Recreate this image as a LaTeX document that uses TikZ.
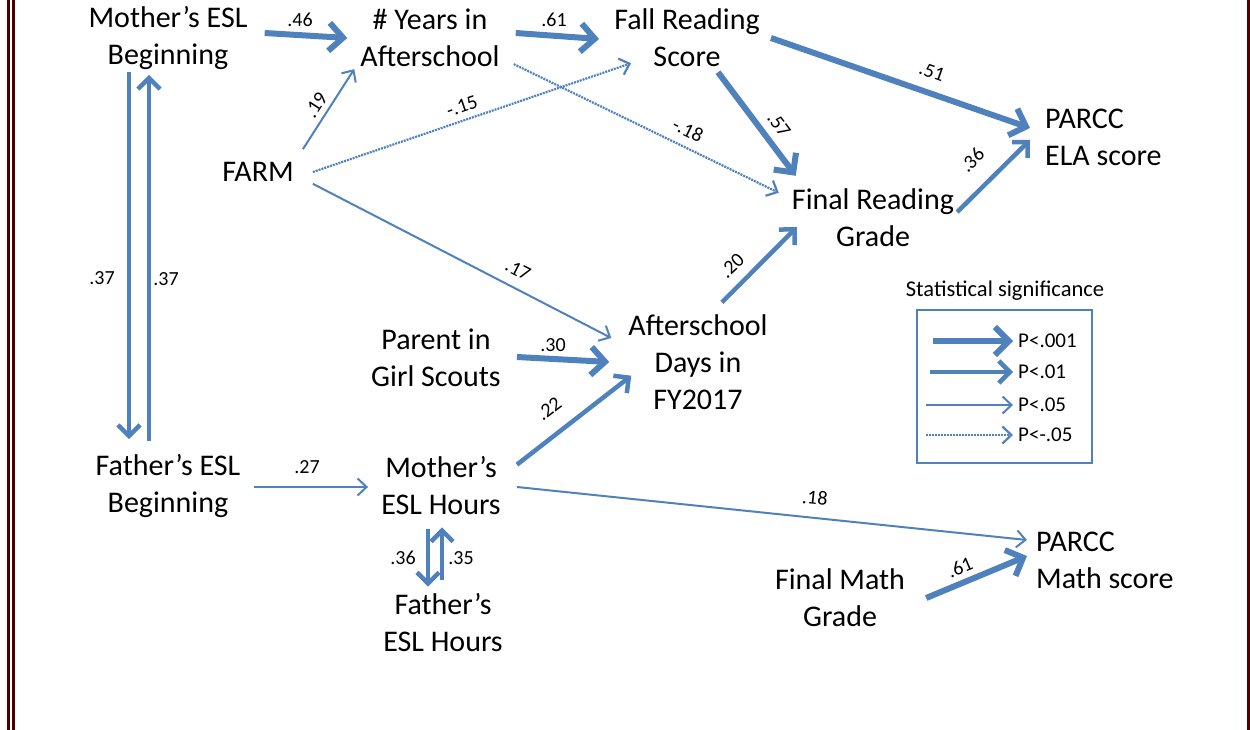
\documentclass[tikz,border=0pt]{standalone}
\usepackage{fontspec}
\setmainfont{Carlito}
\usepackage{xcolor}
\usetikzlibrary{arrows.meta, positioning, calc}
\definecolor{pathblue}{RGB}{79,129,189}
\definecolor{framered}{RGB}{80,0,0}

\tikzset{
  var/.style={font=\fontsize{30}{37}\selectfont, align=center, inner sep=0pt},
  varl/.style={var, align=left, anchor=west},
  lbl/.style={font=\fontsize{20}{24}\selectfont, inner sep=0pt},
  sig001/.style={pathblue, line width=6pt, -{Straight Barb[length=14pt,width=28pt]}},
  sig01/.style={pathblue, line width=4.5pt, -{Straight Barb[length=11pt,width=22pt]}},
  sig05/.style={pathblue, line width=2pt, -{Straight Barb[length=9pt,width=17pt]}},
  signs/.style={pathblue, line width=2.2pt, dash pattern=on 2pt off 1pt, -{Straight Barb[length=9pt,width=17pt]}},
}

\begin{document}
\begin{tikzpicture}[x=1pt, y=-1pt]
      \useasboundingbox (0,0) rectangle (1250,730);
      % frame
      \draw [framered, line width=3pt] (8.5,0) -- (8.5,730);
      \draw [framered, line width=3pt] (13.5,0) -- (13.5,730);
      \draw [framered, line width=3pt] (1248.5,0) -- (1248.5,730);

      % variables
      \node[var] (mbeg) at (168,38) {Mother’s ESL\\Beginning};
      \node[var] (years) at (430,38) {\# Years in\\Afterschool};
      \node[var] (fall) at (687,38) {Fall Reading\\Score};
      \node[varl] (ela) at (1045,137) {PARCC\\ELA score};
      \node[var] (farm) at (258,172) {FARM};
      \node[var] (fread) at (873,218) {Final Reading\\Grade};
      \node[var] (days) at (698,362) {Afterschool\\Days in\\FY2017};
      \node[var] (scouts) at (436,358) {Parent in\\Girl Scouts};
      \node[var] (fbeg) at (168,486) {Father’s ESL\\Beginning};
      \node[var] (mhours) at (441,486) {Mother’s\\ESL Hours};
      \node[var] (fhours) at (443,623) {Father’s\\ESL Hours};
      \node[var] (fmath) at (840,598) {Final Math\\Grade};
      \node[varl] (math) at (1036,560) {PARCC\\Math score};

      % paths
      \draw[sig001] ([shift={(17,-5)}]mbeg.east) -- ([shift={(-13,0)}]years.west);
      \draw[sig001] ([shift={(16,-5)}]years.east) -- ([shift={(-15,1)}]fall.west);
      \draw[sig05] ([shift={(9,-13)}]farm.north east) -- ([shift={(-6,2)}]years.south west);
      \draw[signs] ([shift={(19,0)}]farm.east) -- ([shift={(17,-4)}]fall.south west);
      \draw[signs] ([shift={(14,-3)}]years.south east) -- ([shift={(-13,4)}]fread.north west);
      \draw[sig001] ([shift={(11,0)}]fall.east) -- ([shift={(-15,-9)}]ela.west);
      \draw[sig001] ([shift={(31,5)}]fall.south) -- ([shift={(4,-13)}]fread.north west);
      \draw[sig01] ([shift={(3,-6)}]fread.east) -- ([shift={(-15,3)}]ela.west);
      \draw[sig05] ([shift={(19,2)}]farm.south east) -- ([shift={(-17,-24)}]days.west);
      \draw[sig001] ([shift={(16,-1)}]scouts.east) -- ([shift={(-19,0)}]days.west);
      \draw[sig01] ([shift={(24,-12)}]days.north) -- ([shift={(5,-20)}]fread.south west);
      \draw[sig01] ([shift={(16,8)}]mhours.north east) -- ([shift={(3,-34)}]days.south west);
      \draw[sig05] ([shift={(16,1)}]mhours.east) -- ([shift={(-9,-20)}]math.west);
      \draw[sig05] ([shift={(14,1)}]fbeg.east) -- ([shift={(-13,1)}]mhours.west);
      \draw[sig001] ([shift={(21,0)}]fmath.east) -- ([shift={(-9,-4)}]math.west);
      \draw[sig01] ([shift={(-39,2)}]mbeg.south) -- ([shift={(-39,-15)}]fbeg.north);
      \draw[sig01] ([shift={(-19,-13)}]fbeg.north) -- ([shift={(-19,5)}]mbeg.south);
      \draw[sig01] ([shift={(-13,14)}]mhours.south) -- ([shift={(-15,-7)}]fhours.north);
      \draw[sig01] ([shift={(-1,-14)}]fhours.north) -- ([shift={(1,12)}]mhours.south);

      % coefficients
      \node[lbl] (c46) at (300,20) {.46};
      \node[lbl] (c61a) at (554,20) {.61};
      \node[lbl, rotate=57] (c19) at (316,105) {.19};
      \node[lbl, rotate=19] (c15) at (462,106) {-.15};
      \node[lbl, rotate=-26] (c18a) at (688,130) {-.18};
      \node[lbl, rotate=-19.5] (c51) at (932,72) {.51};
      \node[lbl, rotate=-53] (c57) at (779,125) {.57};
      \node[lbl, rotate=45] (c36a) at (972,160) {.36};
      \node[lbl, rotate=-27] (c17) at (518,270) {.17};
      \node[lbl] (c30) at (553,345) {.30};
      \node[lbl, rotate=43] (c20) at (732,266) {.20};
      \node[lbl, rotate=37] (c22) at (549,409) {.22};
      \node[lbl, rotate=-6] (c18b) at (815,498) {.18};
      \node[lbl] (c27) at (307,467) {.27};
      \node[lbl, rotate=23] (c61b) at (960,567) {.61};
      \node[lbl] (c37a) at (102,278) {.37};
      \node[lbl] (c37b) at (166,279) {.37};
      \node[lbl] (c36b) at (403,558) {.36};
      \node[lbl] (c35) at (461,558) {.35};

      % legend
      \node[lbl, font=\fontsize{22.5}{26}\selectfont] (legtitle) at (1005,291) {Statistical significance};
      \node[draw=pathblue, line width=1.5pt, minimum width=175pt, minimum height=153pt, inner sep=0pt] (legbox) at (1004.5,386.5) {};
      \foreach \sty/\txt/\yy/\xs in {sig001/P<.001/341/933, sig01/P<.01/372/930, sig05/P<.05/405/926, signs/P<-.05/435/926}{
        \node[lbl, font=\fontsize{21}{25}\selectfont, anchor=west] (leg\sty) at (1018,\yy) {\txt};
        \coordinate (start\sty) at (\xs,\yy);
        \draw[\sty] (start\sty) -- ([xshift=-5pt]leg\sty.west);
      }
\end{tikzpicture}
\end{document}
